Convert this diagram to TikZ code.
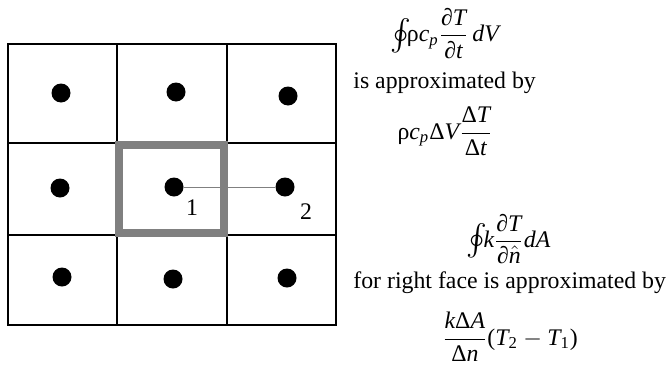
\documentclass[tikz,border=0pt]{standalone}
\usepackage{amsmath}
\usepackage{graphicx}
\usepackage{fontspec}
\setmainfont{Liberation Serif}
\newcommand{\mi}[1]{\textit{#1}}
\newcommand{\tu}[1]{\textup{#1}}
\newcommand{\smoint}{\mathord{\vcenter{\hbox{\scalebox{1.3}{$\oint$}}}}\!}
\begin{document}
\begin{tikzpicture}[x=0.5pt,y=-0.5pt,
  every node/.style={font=\fontsize{11.9}{14}\selectfont, inner sep=0pt},
  gridline/.style={line width=0.65pt, black},
  ptdot/.style={circle, fill=black, inner sep=0pt, minimum size=9.5pt},
  cellbox/.style={line width=4pt, gray},
  link/.style={line width=0.5pt, gray},
  formula/.style={anchor=center},
  caption/.style={anchor=west}]
\useasboundingbox (0,0) rectangle (667,364);
% grid
\draw[gridline] (8,44) rectangle (336,325);
\draw[gridline] (117,44) -- (117,325);
\draw[gridline] (227,44) -- (227,325);
\draw[gridline] (8,143) -- (336,143);
\draw[gridline] (8,235) -- (336,235);
% highlighted cell
\draw[cellbox] (119,145) rectangle (224,233);
% dots
\node[ptdot] (d11) at (61,93) {};
\node[ptdot] (d12) at (176,92) {};
\node[ptdot] (d13) at (288,96) {};
\node[ptdot] (d21) at (60,188) {};
\node[ptdot] (d22) at (174,187) {};
\node[ptdot] (d23) at (285,187) {};
\node[ptdot] (d31) at (62,277) {};
\node[ptdot] (d32) at (173,279) {};
\node[ptdot] (d33) at (287,278) {};
\draw[link] (d22.east) -- (d23.west);
\node (l1) at (192,208) {1};
\node (l2) at (306,212) {2};
% formulas
\node[formula] (f1) at (444.5,33.5) {$\displaystyle \smoint \tu{ρ}\mi{c}_{\mi{p}}\frac{\tu{∂}\mi{T}}{\tu{∂}\mi{t}}\,\mi{dV}$};
\node[caption] (t1) at (353,83) {is approximated by};
\node[formula] (f2) at (445,131.5) {$\displaystyle \tu{ρ}\mi{c}_{\mi{p}}\tu{Δ}\mi{V}\frac{\tu{Δ}\mi{T}}{\tu{Δ}\mi{t}}$};
\node[formula] (f3) at (508.5,239) {$\displaystyle \smoint \mi{k}\frac{\tu{∂}\mi{T}}{\tu{∂}\hat{\mi{n}}}\mi{dA}$};
\node[caption] (t2) at (353,283) {for right face is approximated by};
\node[formula] (f4) at (510,337) {$\displaystyle \frac{\mi{k}\tu{Δ}\mi{A}}{\tu{Δ}\mi{n}}\tu{(}\mi{T}_{\tu{2}}-\mi{T}_{\tu{1}}\tu{)}$};
\end{tikzpicture}
\end{document}
